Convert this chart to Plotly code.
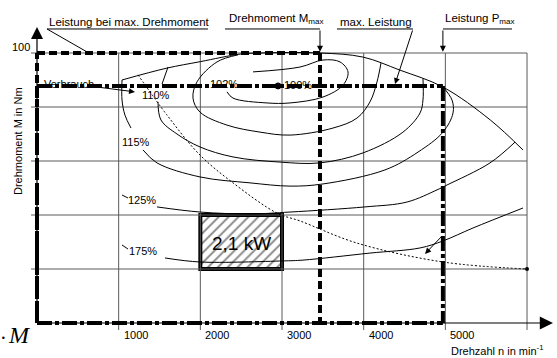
import plotly.graph_objects as go

# ---------------- data (rpm / Nm as % of max torque) ----------------
RPM_GRID = [1000, 2000, 3000, 4000, 5000, 6000]
RPM_TICK_LABELS = ["1000", "2000", "3000", "4000", "5000"]
TORQUE_GRID = [20, 40, 60, 80, 100]
N_END = 6000
M_TOP = 100

N_MMAX = 3465      # speed at max. torque
N_PMAX = 4970      # speed at max. power
M_PMAX = 87.8      # torque at max. power

FULL_N = [1040, 1590, 2000, 2490, 2730, 3465, 3990, 4440, 4970, 5550, 5950]
FULL_M = [90.0, 94.4, 96.8, 99.6, 100, 100, 98.5, 93.7, 87.4, 75.2, 64.1]

C104_N = [2461, 2204, 1959, 1910, 1996, 2326, 2731, 3098, 3624, 3918, 4077, 4163, 4212]
C104_M = [99.3, 96.7, 89.3, 83.3, 78.1, 73.3, 70.7, 69.6, 72.2, 75.9, 81.9, 89.3, 96.3]

C102_N = [2645, 3220, 3502, 3710, 3808, 3747, 3502, 3098, 2816, 2400, 2326]
C102_M = [93.0, 94.8, 97.4, 96.7, 93.0, 88.1, 83.7, 81.5, 81.5, 83.3, 85.6]

C110A_N = [1604, 1531]
C110A_M = [94.8, 88.5]
C110B_N = [1482, 1518, 1714, 1996, 2400, 2975, 3465, 3992, 4481, 4690, 4726, 4726]
C110B_M = [81.9, 75.2, 70.0, 65.2, 61.5, 59.6, 59.3, 63.0, 70.7, 77.8, 82.6, 90.5]

C115A_N = [1041, 1041, 1077, 1151]
C115A_M = [90.0, 82.6, 77.0, 72.2]
C115B_N = [1298, 1469, 1996, 2608, 3098, 3502, 4261, 4665, 4971, 5094, 5081, 4971]
C115B_M = [64.1, 59.3, 54.1, 51.9, 50.7, 51.5, 56.7, 63.3, 70.7, 77.8, 82.6, 87.4]

C125_N = [1469, 1996, 2608, 3098, 4016, 4530, 4898, 5020, 5547, 5853]
C125_M = [43.0, 41.1, 40.4, 41.1, 43.0, 44.8, 49.3, 51.1, 59.3, 67.0]

C175_N = [1567, 1996, 3012, 3257, 4077, 4690, 4971, 5339, 5951]
C175_M = [24.1, 22.6, 23.0, 23.3, 25.9, 27.8, 30.4, 35.2, 42.6]

POWER_N = [1237, 1592, 1996, 2400, 2939, 3220, 3918, 4971, 6000]
POWER_M = [91.9, 77.0, 62.2, 51.9, 40.7, 37.8, 29.6, 22.6, 20.0]

BOX_N = [2000, 3000]
BOX_M = [20, 40]
BOX_LABEL = "2,1 kW"

BSFC_LABELS = ["102%", "100%", "110%", "115%", "125%", "175%"]
BSFC_LABEL_N = [2290, 3196, 1457, 1212, 1286, 1298]
BSFC_LABEL_M = [88.5, 88.1, 84.4, 67.0, 45.6, 26.7]
OPT_POINT = (2951, 87.8)

FONT = "Liberation Sans, Arial, sans-serif"
GRID = "#5a5a5a"

fig = go.Figure()


def line(xs, ys, width=1, color="black", dash="solid", shape="linear"):
    fig.add_trace(go.Scatter(x=xs, y=ys, mode="lines", hoverinfo="skip",
                             line=dict(color=color, width=width, dash=dash, shape=shape,
                                       smoothing=1.0 if shape == "spline" else None),
                             showlegend=False))


# grid
for n in RPM_GRID:
    line([n, n], [-2.6, M_TOP], color=GRID)
for m in TORQUE_GRID:
    line([-73, N_END], [m, m], color=GRID)

# hatched box
fig.add_trace(go.Bar(x=[sum(BOX_N) / 2], y=[BOX_M[1] - BOX_M[0]], base=[BOX_M[0]],
                     width=[BOX_N[1] - BOX_N[0]], hoverinfo="skip", showlegend=False,
                     marker=dict(color="white", line=dict(color="black", width=4),
                                 pattern=dict(shape="/", fgcolor="black", bgcolor="white",
                                              size=7, solidity=0.25))))

# contours
for xs, ys in [(FULL_N, FULL_M), (C104_N, C104_M), (C102_N, C102_M),
               (C110A_N, C110A_M), (C110B_N, C110B_M), (C115A_N, C115A_M),
               (C115B_N, C115B_M), (C125_N, C125_M), (C175_N, C175_M)]:
    line(xs, ys, width=1, shape="spline")
line([1041, 1114], [47.4, 46.3])
line([1041, 1114], [28.9, 27.4])
fig.add_trace(go.Scatter(x=POWER_N, y=POWER_M, mode="lines", hoverinfo="skip",
                         line=dict(color="black", width=1, dash="2px,2px", shape="spline"),
                         showlegend=False))
fig.add_trace(go.Scatter(x=[POWER_N[-1]], y=[POWER_M[-1]], mode="markers",
                         marker=dict(color="black", size=4), showlegend=False, hoverinfo="skip"))

# limit lines
DASH = "8px,4px"
DASHDOT = "15px,3px,4px,3px"
line([0, N_MMAX], [M_TOP, M_TOP], width=4, dash=DASH)
line([N_MMAX, N_MMAX], [M_TOP, 0], width=4, dash=DASH)
line([0, 0], [0, M_TOP], width=4, dash=DASH)
line([0, N_PMAX], [M_PMAX, M_PMAX], width=4, dash=DASHDOT)
line([N_PMAX, N_PMAX], [M_PMAX, 0], width=4, dash=DASHDOT)
line([0, N_PMAX], [0, 0], width=4, dash=DASHDOT)
line([0, 0], [0, M_PMAX], width=4, dash=DASHDOT)

# optimum point
fig.add_trace(go.Scatter(x=[OPT_POINT[0]], y=[OPT_POINT[1]], mode="markers",
                         marker=dict(symbol="circle", color="black", size=6,
                                     line=dict(color="black", width=1)),
                         showlegend=False, hoverinfo="skip"))

ann = []


def text(t, x, y, size=11, xanchor="center", yanchor="middle", **kw):
    ann.append(dict(text=t, x=x, y=y, xref="x", yref="y", showarrow=False,
                    xanchor=xanchor, yanchor=yanchor,
                    font=dict(family=FONT, size=size, color="black"), **kw))


def arrow(x0, y0, x1, y1, size=1.0, width=1.0, head=2):
    ann.append(dict(text="", x=x1, y=y1, ax=x0, ay=y0, xref="x", yref="y",
                    axref="x", ayref="y", showarrow=True, arrowhead=head,
                    arrowsize=size, arrowwidth=width, arrowcolor="black", standoff=0))


for t, x, y in zip(BSFC_LABELS, BSFC_LABEL_N, BSFC_LABEL_M):
    text(t, x, y)
text("Verbrauch", 392, 88.5)
text(BOX_LABEL, 2510, 29.6, size=19)

for n, lab in zip(RPM_GRID, RPM_TICK_LABELS):
    text(lab, n, -4.4, xanchor="left", xshift=3)
text("100", -61, 102.2, xanchor="right")
text("Drehmoment M in Nm", -233, 67.4, textangle=-90)
text("Drehzahl n in min<sup>-1</sup>", 5045, -10, xanchor="left")
SERIF = "Liberation Serif, Times New Roman, serif"
ann.append(dict(text="·", x=-410, y=-5.5, xref="x", yref="y", showarrow=False,
                xanchor="center", yanchor="middle",
                font=dict(family=SERIF, size=20, color="black")))
ann.append(dict(text="<i>M</i>", x=-210, y=-4.6, xref="x", yref="y", showarrow=False,
                xanchor="center", yanchor="middle",
                font=dict(family=SERIF, size=24, color="black")))

# top labels
text("Leistung bei max. Drehmoment", 122, 111.6, size=11.5, xanchor="left")
text("Drehmoment M<sub>max</sub>", 2326, 112.5, size=11.5, xanchor="left")
text("max. Leistung", 3686, 111.6, size=11.5, xanchor="left")
text("Leistung P<sub>max</sub>", 4971, 112.5, size=11.5, xanchor="left")
line([122, 2094], [108.9, 108.9])
line([2302, 3465], [108.9, 108.9])
line([3673, 4604], [108.9, 108.9])
line([4971, 5816], [108.9, 108.9])
line([122, 624], [108.9, 100.2])
arrow(N_MMAX, 108.9, N_MMAX, 100.5, size=1.2)
arrow(4604, 108.9, 4384, 88.5, size=1.2)
arrow(N_PMAX, 108.9, N_PMAX, 100.5, size=1.2)
arrow(735, 87.4, 1200, 85.6, size=1.2)
arrow(4971, 32.6, 4751, 25.6, size=1.2)

# axes arrows
arrow(0, 0, 6318, 0, size=2.2, width=1.2)
arrow(0, 0, 0, 109.6, size=2.0, width=1.2)

fig.update_layout(
    width=557, height=358, margin=dict(l=0, r=0, t=0, b=0), autosize=False,
    paper_bgcolor="white", plot_bgcolor="white", annotations=ann,
    xaxis=dict(range=[-453, 6367], visible=False, fixedrange=True),
    yaxis=dict(range=[-12.96, 119.63], visible=False, fixedrange=True),
    showlegend=False,
)
fig.write_html("out.html", config={"displayModeBar": False},
               post_script="document.body.style.margin='0';document.body.style.overflow='hidden';")
